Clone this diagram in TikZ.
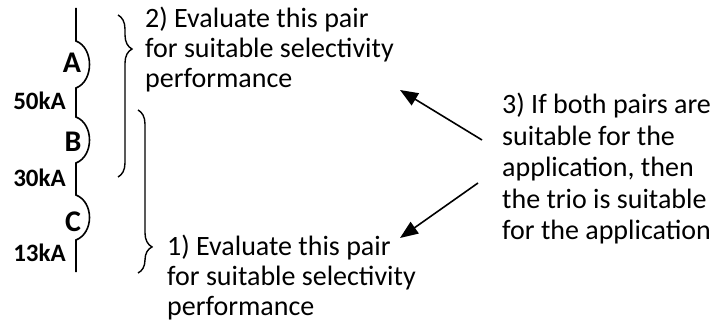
\documentclass[tikz,border=0pt]{standalone}
\usepackage{fontspec}
\setmainfont{Carlito}
\usetikzlibrary{arrows.meta,decorations.pathreplacing}
\tikzset{
  wire/.style={line width=1.6pt},
  pairbrace/.style={decorate,decoration={brace,amplitude=14pt,aspect=#1},line width=1.4pt},
  note/.style={align=left,inner sep=0pt,anchor=north west,font=\fontsize{28}{30}\selectfont},
  rating/.style={inner sep=0pt,anchor=east,font=\bfseries\fontsize{25}{25}\selectfont},
  brk/.style={inner sep=0pt,font=\bfseries\fontsize{30}{30}\selectfont},
}
\begin{document}
\begin{tikzpicture}[>={Triangle[length=18pt,width=14pt]},x=1pt,y=-1pt]
\useasboundingbox (0,0) rectangle (711,326);
\def\bx{76} % one-line feeder
% feeder with the three breakers
\draw[wire] (\bx,8) -- (\bx,41) .. controls (\bx+18,48) and (\bx+18,81) .. (\bx,88)
  -- (\bx,117) .. controls (\bx+18,124) and (\bx+18,156) .. (\bx,163)
  -- (\bx,195) .. controls (\bx+18,202) and (\bx+18,233) .. (\bx,240) -- (\bx,272);
\node[brk] (brkA) at (72,63) {A};
\node[brk] (brkB) at (73,142) {B};
\node[brk] (brkC) at (73,222) {C};
\node[rating] (ratA) at (66,101) {50kA};
\node[rating] (ratB) at (66,178) {30kA};
\node[rating] (ratC) at (66,253) {13kA};
% pairs
\draw[pairbrace=0.21] (118,15) -- (118,177);
\draw[pairbrace=0.84] (138,110) -- (138,273);
\node[note] (upper) at (145,7) {2) Evaluate this pair\\for suitable selectivity\\performance};
\node[note] (lower) at (167,235) {1) Evaluate this pair\\for suitable selectivity\\performance};
\node[note] (trio) at (502,93) {3) If both pairs are\\[1.5pt]suitable for the\\[1.5pt]application, then\\[1.5pt]the trio is suitable\\[1.5pt]for the application};
\coordinate (upTail) at (482,140);
\coordinate (upTip) at (400,90);
\coordinate (lowTail) at (478,183);
\coordinate (lowTip) at (400,238);
\draw[->,line width=1.6pt] (upTail) -- (upTip);
\draw[->,line width=1.6pt] (lowTail) -- (lowTip);
\end{tikzpicture}
\end{document}
